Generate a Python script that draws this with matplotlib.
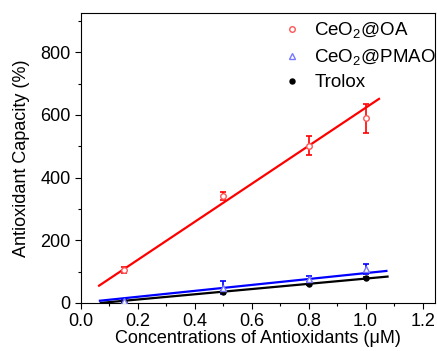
import matplotlib
matplotlib.use("Agg")
import matplotlib.pyplot as plt
from matplotlib.ticker import MultipleLocator, FormatStrFormatter

plt.rcParams["font.family"] = ["Liberation Sans", "DejaVu Sans"]
plt.rcParams["mathtext.fontset"] = "custom"
plt.rcParams["mathtext.rm"] = "Liberation Sans"

conc = [0.15, 0.5, 0.8, 1.0]

oa_vals = [105, 341, 502, 589]
oa_err = [10, 13, 31, 47]
pmao_vals = [5, 48, 77, 108]
pmao_err = [3, 21, 10, 17]
trolox_vals = [2, 36, 60, 79]
trolox_err = [2, 3, 3, 3]

# linear fit lines (end points)
oa_fit_x = [0.064, 1.047]
oa_fit_y = [55, 651]
pmao_fit_x = [0.067, 1.073]
pmao_fit_y = [7, 102]
trolox_fit_x = [0.07, 1.077]
trolox_fit_y = [0, 84]

fig = plt.figure(figsize=(4.37, 3.51), dpi=100)
ax = fig.add_axes([0.185, 0.137, 0.810, 0.826])

ax.plot(oa_fit_x, oa_fit_y, color="#ff0000", lw=1.6, zorder=2)
ax.plot(pmao_fit_x, pmao_fit_y, color="#0000ff", lw=1.6, zorder=2)
ax.plot(trolox_fit_x, trolox_fit_y, color="black", lw=1.6, zorder=1.9)

ax.errorbar(conc, trolox_vals, yerr=trolox_err, fmt="o", color="black",
            ms=3.6, capsize=2.5, elinewidth=1.2, capthick=1.2, zorder=3, label="Trolox")
ax.errorbar(conc, pmao_vals, yerr=pmao_err, fmt="^", color="#0000ff",
            mfc="white", mec="#7777ff", ms=4.2, capsize=2.5, elinewidth=1.2,
            capthick=1.2, zorder=3, label=r"CeO$_2$@PMAO")
ax.errorbar(conc, oa_vals, yerr=oa_err, fmt="o", color="#ff0000",
            mfc="white", mec="#ff5555", ms=4, capsize=2.5, elinewidth=1.2,
            capthick=1.2, zorder=3, label=r"CeO$_2$@OA")

ax.set_xlim(0, 1.243)
ax.set_ylim(0, 925)
ax.xaxis.set_major_locator(MultipleLocator(0.2))
ax.xaxis.set_minor_locator(MultipleLocator(0.1))
ax.yaxis.set_major_locator(MultipleLocator(200))
ax.yaxis.set_minor_locator(MultipleLocator(100))
ax.xaxis.set_major_formatter(FormatStrFormatter("%.1f"))
ax.tick_params(axis="both", which="major", direction="out", length=4, width=0.8, labelsize=13)
ax.tick_params(axis="both", which="minor", direction="out", length=2.5, width=0.8)
ax.tick_params(top=False, right=False, which="both")

ax.set_xlabel("Concentrations of Antioxidants (\u03bcM)", fontsize=13, labelpad=0)
ax.set_ylabel("Antioxidant Capacity (%)", fontsize=13, labelpad=7)

handles, labels = ax.get_legend_handles_labels()
handles = [h[0] for h in handles][::-1]
labels = labels[::-1]
ax.legend(handles, labels, loc="upper right", frameon=False, fontsize=13.5,
          handlelength=1.0, handletextpad=0.7, labelspacing=0.35,
          borderaxespad=0.0, bbox_to_anchor=(1.025, 1.0))

fig.savefig("out.png", dpi=100)
